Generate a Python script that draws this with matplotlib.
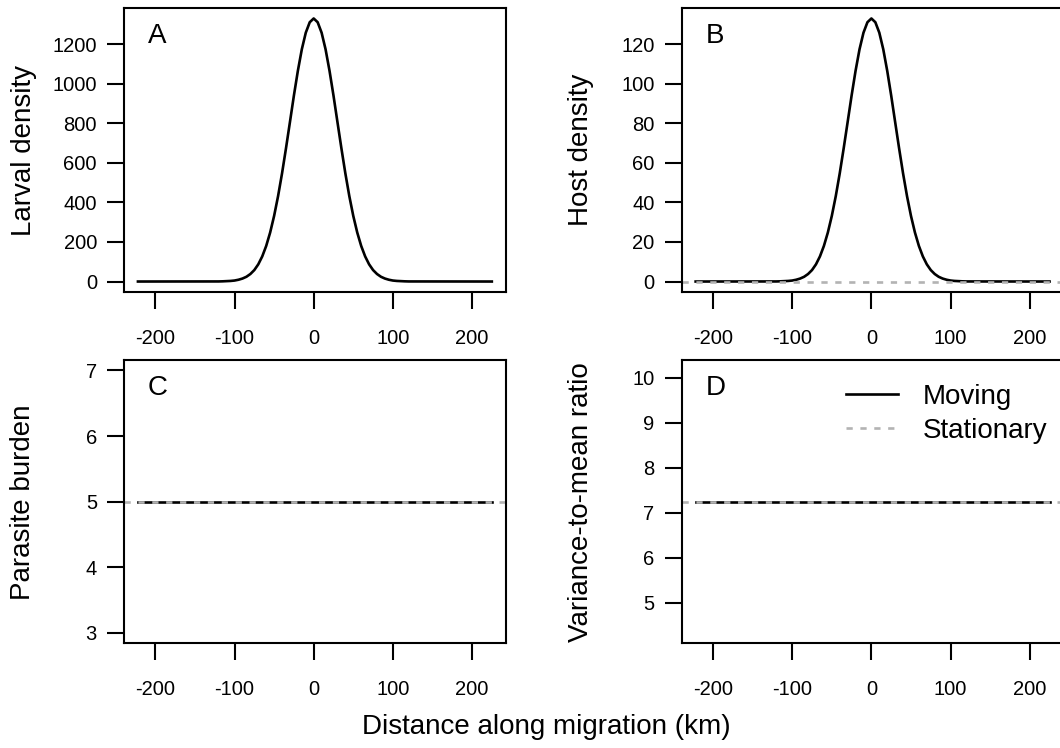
import matplotlib
matplotlib.use("Agg")
import matplotlib.pyplot as plt

plt.rcParams['font.family'] = ['Liberation Sans', 'DejaVu Sans']
plt.rcParams['axes.unicode_minus'] = False
plt.rcParams['lines.scale_dashes'] = False

# distance along migration (km)
dist = [-222, -120, -115, -110, -105, -100, -95, -90, -85, -80, -75, -70, -65,
        -60, -55, -50, -45, -40, -35, -30, -25, -20, -15, -10, -5, 0,
        5, 10, 15, 20, 25, 30, 35, 40, 45, 50, 55, 60, 65, 70, 75, 80, 85,
        90, 95, 100, 105, 110, 115, 120, 225]

# moving population
larval = [0, 0.4, 1, 2, 3, 5, 9, 15, 24, 38, 58, 87, 127,
          180, 248, 332, 432, 547, 674, 807, 941, 1066, 1175, 1259, 1312, 1331,
          1312, 1259, 1175, 1066, 941, 807, 674, 547, 432, 332, 248, 180, 127, 87, 58, 38, 24,
          15, 9, 5, 3, 2, 1, 0.4, 0]
host = [0, 0.04, 0.1, 0.2, 0.3, 0.5, 0.9, 1.5, 2.4, 3.8, 5.8, 8.7, 12.7,
        18.0, 24.8, 33.2, 43.2, 54.7, 67.4, 80.7, 94.1, 106.6, 117.5, 125.9, 131.2, 133.1,
        131.2, 125.9, 117.5, 106.6, 94.1, 80.7, 67.4, 54.7, 43.2, 33.2, 24.8, 18.0, 12.7, 8.7, 5.8, 3.8, 2.4,
        1.5, 0.9, 0.5, 0.3, 0.2, 0.1, 0.04, 0]
burden_x = [-222, 225]
burden = [5.0, 5.0]
vmr = [7.24, 7.24]

# stationary population
host_stat = 0.0
burden_stat = 5.0
vmr_stat = 7.24

xticks = [-200, -100, 0, 100, 200]

gray = '#b3b3b3'
dash = (0, (4.5, 5.5))

fig = plt.figure(figsize=(10.6, 7.48), dpi=100)
W, H = 1060.0, 748.0

def make_ax(left, top, right, bottom):
    return fig.add_axes([left / W, 1 - bottom / H, (right - left) / W, (bottom - top) / H])

axA = make_ax(124, 8, 506, 292)
axB = make_ax(681.7, 8, 1063.7, 292)
axC = make_ax(124, 360, 506, 643.3)
axD = make_ax(681.7, 360, 1063.7, 643.3)

axA.plot(dist, larval, color='k', lw=1.9)

axB.plot(dist, host, color='k', lw=1.9)
axB.axhline(host_stat, color=gray, lw=1.9, linestyle=dash)

axC.plot(burden_x, burden, color='k', lw=1.9)
axC.axhline(burden_stat, color=gray, lw=1.9, linestyle=dash)

axD.plot(burden_x, vmr, color='k', lw=1.9, label='Moving')
axD.axhline(vmr_stat, color=gray, lw=1.9, linestyle=dash, label='Stationary')

axA.set_ylim(-53, 1384)
axA.set_yticks(range(0, 1201, 200))
axB.set_ylim(-5.3, 138.4)
axB.set_yticks(range(0, 121, 20))
axC.set_ylim(2.84, 7.16)
axC.set_yticks([3, 4, 5, 6, 7])
axD.set_ylim(4.1, 10.39)
axD.set_yticks([5, 6, 7, 8, 9, 10])

for ax, letter in zip([axA, axB, axC, axD], 'ABCD'):
    ax.set_xlim(-239.6, 242.9)
    ax.set_xticks(xticks)
    ax.tick_params(direction='out', length=12.5, width=1.5, labelsize=14.5, color='k')
    ax.tick_params(axis='y', pad=7)
    ax.tick_params(axis='x', pad=14)
    for s in ax.spines.values():
        s.set_linewidth(1.5)
    ax.text(0.062, 0.876, letter, transform=ax.transAxes, fontsize=20,
            ha='left', va='baseline')

fig.text(24 / W, 1 - 150 / H, 'Larval density', rotation=90, fontsize=20, ha='center', va='center')
fig.text(581 / W, 1 - 150 / H, 'Host density', rotation=90, fontsize=20, ha='center', va='center')
fig.text(23 / W, 1 - 502 / H, 'Parasite burden', rotation=90, fontsize=20, ha='center', va='center')
fig.text(581 / W, 1 - 502 / H, 'Variance-to-mean ratio', rotation=90, fontsize=20, ha='center', va='center')
fig.text(546 / W, 1 - 727 / H, 'Distance along migration (km)', fontsize=20, ha='center', va='center')

axD.legend(loc='upper left', bbox_to_anchor=(846 / W, 1 - 384 / H), bbox_transform=fig.transFigure,
           frameon=False, borderpad=0, borderaxespad=0, handlelength=1.87, handletextpad=0.9,
           labelspacing=0.28, fontsize=20)

fig.savefig('out.png', dpi=100)
